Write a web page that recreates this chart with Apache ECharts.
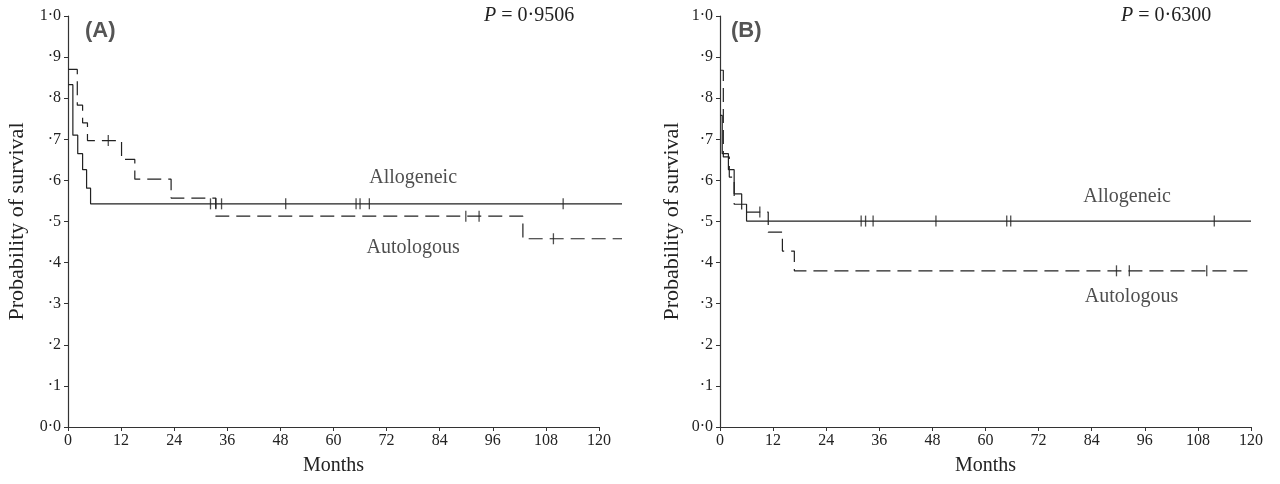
<!DOCTYPE html>
<html>
<head>
<meta charset="utf-8">
<script src="https://cdn.jsdelivr.net/npm/echarts@6/dist/echarts.min.js"></script>
<style>
html,body{margin:0;padding:0;background:#fff;}
#c{width:1280px;height:484px;}
</style>
</head>
<body>
<div id="c"></div>
<script>
// ---- Data (months, survival probability) ----
const xTickStep = 12;      // month ticks 0..120
const xAxisMax = 120;

// Panel A
const A_alloT = [0, 1.1, 2.2, 3.3, 4.2, 5.1, 125.2];
const A_alloS = [0.833, 0.710, 0.665, 0.626, 0.581, 0.543, 0.543];
const A_autoT = [0, 2.1, 3.3, 4.4, 12.1, 15.1, 23.3, 33.4, 102.8, 125.2];
const A_autoS = [0.870, 0.783, 0.740, 0.697, 0.651, 0.603, 0.557, 0.513, 0.458, 0.458];
const A_alloCens = [32.2, 33.4, 34.7, 49.2, 65.1, 66.0, 68.1, 111.9];
const A_autoCens = [9.1, 89.9, 92.9, 109.7];

// Panel B
const B_alloT = [0, 0.5, 1.9, 3.2, 4.9, 6.0, 120];
const B_alloS = [0.758, 0.665, 0.626, 0.567, 0.542, 0.501, 0.501];
const B_autoT = [0, 0.75, 2.1, 3.2, 4.9, 10.9, 14.1, 16.8, 120];
const B_autoS = [0.868, 0.657, 0.608, 0.542, 0.523, 0.474, 0.428, 0.380, 0.380];
const B_alloCens = [31.9, 32.9, 34.6, 48.8, 64.8, 65.7, 111.7];
const B_autoCens = [9.0, 89.6, 92.5, 110.0];

const pA = '0·9506';
const pB = '0·6300';

// annotation anchor points in data units [month, probability]
const A_alloLabel = [78, 0.607];
const A_autoLabel = [78, 0.435];
const B_alloLabel = [92, 0.561];
const B_autoLabel = [93, 0.318];

// ---- helpers ----
function pairs(T, S) { return T.map((t, i) => [t, S[i]]); }
function survAt(T, S, t) {
  let v = S[0];
  for (let i = 0; i < T.length; i++) { if (T[i] <= t) v = S[i]; }
  return v;
}
function cens(T, S, C) { return C.map(t => [t, survAt(T, S, t)]); }

const SERIF = '"Liberation Serif","DejaVu Serif",serif';
const INK = '#222';
const AX = '#333';

function yFmt(v) {
  const r = Math.round(v * 10);
  if (r === 0) return '0·0';
  if (r === 10) return '1·0';
  return '·' + r;
}

// layout
const PLOT_W = 531, TOP = 16, H = 411;
const leftA = 68, leftB = 720;
const endA = Math.max(A_alloT[A_alloT.length - 1], A_autoT[A_autoT.length - 1]);
const endB = Math.max(B_alloT[B_alloT.length - 1], B_autoT[B_autoT.length - 1], xAxisMax);

// visible axes (grids 0,1)
function xAxisVis(gi) {
  return {
    type: 'value', gridIndex: gi, min: 0, max: xAxisMax, interval: xTickStep,
    name: 'Months', nameLocation: 'middle', nameGap: 29,
    nameTextStyle: { fontFamily: SERIF, fontSize: 20, color: INK },
    axisLine: { lineStyle: { color: AX, width: 1.2 } },
    axisTick: { length: 4, lineStyle: { color: AX } },
    axisLabel: { fontFamily: SERIF, fontSize: 16, color: INK, margin: 6 },
    splitLine: { show: false }
  };
}
function yAxisVis(gi, gap) {
  return {
    type: 'value', gridIndex: gi, min: 0, max: 1, interval: 0.1,
    name: 'Probability of survival', nameLocation: 'middle', nameGap: gap,
    nameTextStyle: { fontFamily: SERIF, fontSize: 22, color: INK },
    axisLine: { show: true, lineStyle: { color: AX, width: 1.2 } },
    axisTick: { show: true, length: 4, lineStyle: { color: AX } },
    axisLabel: { fontFamily: SERIF, fontSize: 16, color: INK, margin: 7, formatter: yFmt },
    splitLine: { show: false }
  };
}
// hidden data axes (grids 2,3)
function xAxisData(gi, max) {
  return { type: 'value', gridIndex: gi, min: 0, max: max, show: false, splitLine: { show: false } };
}
function yAxisData(gi) {
  return { type: 'value', gridIndex: gi, min: 0, max: 1, show: false, splitLine: { show: false } };
}

function stepLine(gi, T, S, dashed) {
  return {
    type: 'line', xAxisIndex: gi, yAxisIndex: gi, step: 'end',
    data: pairs(T, S), symbol: 'none', clip: false, animation: false,
    lineStyle: { color: INK, width: 1.2, type: dashed ? [14, 7] : 'solid' }
  };
}
function censor(gi, T, S, C) {
  return {
    type: 'scatter', xAxisIndex: gi, yAxisIndex: gi,
    data: cens(T, S, C), symbol: 'rect', symbolSize: [1.3, 11],
    itemStyle: { color: INK }, animation: false, clip: false
  };
}
function label(gi, pos, text) {
  return {
    type: 'scatter', xAxisIndex: gi, yAxisIndex: gi, data: [pos],
    symbolSize: 0, animation: false, silent: true,
    label: { show: true, position: 'inside', formatter: text,
      fontFamily: SERIF, fontSize: 20, color: INK }
  };
}
function pText(left, val) {
  return { type: 'text', left: left, top: 6,
    style: { rich: { i: { fontStyle: 'italic', fontFamily: SERIF, fontSize: 20, fill: INK },
                     n: { fontFamily: SERIF, fontSize: 20, fill: INK } },
             text: '{i|P}{n| = ' + val + '}' } };
}

const chart = echarts.init(document.getElementById('c'), null, { renderer: 'canvas' });
chart.setOption({
  backgroundColor: '#fff',
  animation: false,
  grid: [
    { left: leftA, top: TOP, width: PLOT_W, height: H },
    { left: leftB, top: TOP, width: PLOT_W, height: H },
    { left: leftA, top: TOP, width: PLOT_W * endA / xAxisMax, height: H },
    { left: leftB, top: TOP, width: PLOT_W * endB / xAxisMax, height: H }
  ],
  xAxis: [xAxisVis(0), xAxisVis(1), xAxisData(2, endA), xAxisData(3, endB)],
  yAxis: [yAxisVis(0, 40), yAxisVis(1, 37), yAxisData(2), yAxisData(3)],
  series: [
    stepLine(2, A_alloT, A_alloS, false),
    stepLine(2, A_autoT, A_autoS, true),
    censor(2, A_alloT, A_alloS, A_alloCens),
    censor(2, A_autoT, A_autoS, A_autoCens),
    label(2, A_alloLabel, 'Allogeneic'),
    label(2, A_autoLabel, 'Autologous'),
    stepLine(3, B_alloT, B_alloS, false),
    stepLine(3, B_autoT, B_autoS, true),
    censor(3, B_alloT, B_alloS, B_alloCens),
    censor(3, B_autoT, B_autoS, B_autoCens),
    label(3, B_alloLabel, 'Allogeneic'),
    label(3, B_autoLabel, 'Autologous')
  ],
  graphic: [
    { type: 'text', left: 85, top: 20, style: { text: '(A)', font: 'bold 22px "Liberation Sans", Arial, sans-serif', fill: '#555' } },
    { type: 'text', left: 731, top: 20, style: { text: '(B)', font: 'bold 22px "Liberation Sans", Arial, sans-serif', fill: '#555' } },
    pText(484, pA),
    pText(1121, pB)
  ]
});
</script>
</body>
</html>
